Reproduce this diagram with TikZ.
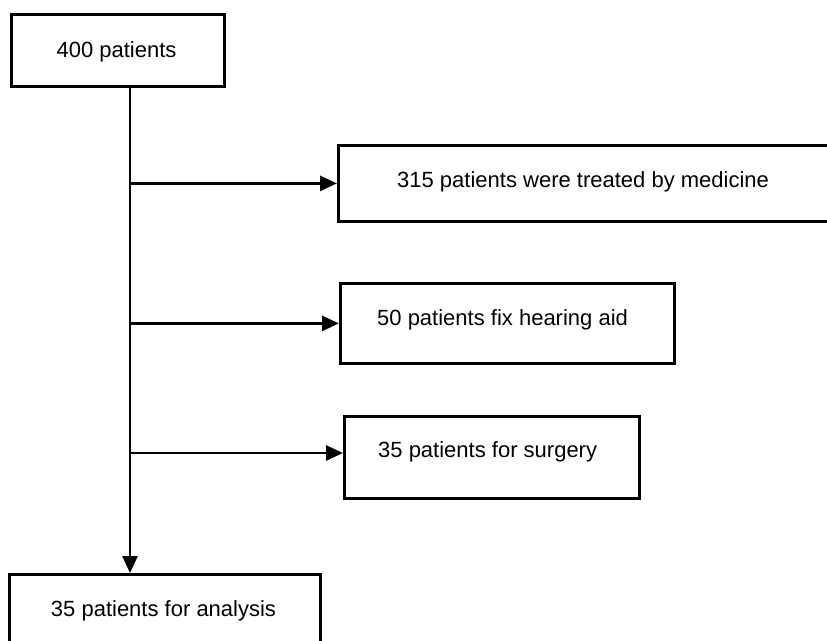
\documentclass[tikz,border=0pt]{standalone}
\usepackage{fontspec}
\setmainfont{Liberation Sans}
\usetikzlibrary{arrows.meta}
\begin{document}
\begin{tikzpicture}[x=1pt,y=-1pt,
  box/.style={draw, line width=2.8pt, rectangle, inner sep=0pt, anchor=north west},
  lbl/.style={font=\fontsize{22}{26}\selectfont, inner sep=0pt},
  conn/.style={line width=2.8pt},
  arr/.style={conn, -{Triangle[length=17pt,width=15pt]}}]
\useasboundingbox (0,0) rectangle (827,640);
\clip (0,0) rectangle (827,640);
% boxes
\node[box, minimum width=213pt, minimum height=72pt] (b1) at (10,13) {};
\node[box, minimum width=503pt, minimum height=76pt] (b2) at (337,144) {};
\node[box, minimum width=334pt, minimum height=80pt] (b3) at (339,282) {};
\node[box, minimum width=295pt, minimum height=82pt] (b4) at (343,415) {};
\node[box, minimum width=311pt, minimum height=87pt] (b5) at (8,573) {};
% texts
\node[lbl, anchor=base] (t1) at (116.5,57) {400 patients};
\node[lbl, anchor=base west] (t2) at (397,187) {315 patients were treated by medicine};
\node[lbl, anchor=base west] (t3) at (377,325) {50 patients fix hearing aid};
\node[lbl, anchor=base west] (t4) at (378,457) {35 patients for surgery};
\node[lbl, anchor=base] (t5) at (163.5,616) {35 patients for analysis};
% connectors
\coordinate (vx) at (130,0);
\coordinate (j3) at (130,453);
\draw[arr] (b1.south -| vx) -- (b5.north -| vx);
\draw[arr] (b2.west -| vx) -- (b2.west);
\draw[arr] (b3.west -| vx) -- (b3.west);
\draw[arr] (j3) -- (j3 -| b4.west);
\end{tikzpicture}
\end{document}
